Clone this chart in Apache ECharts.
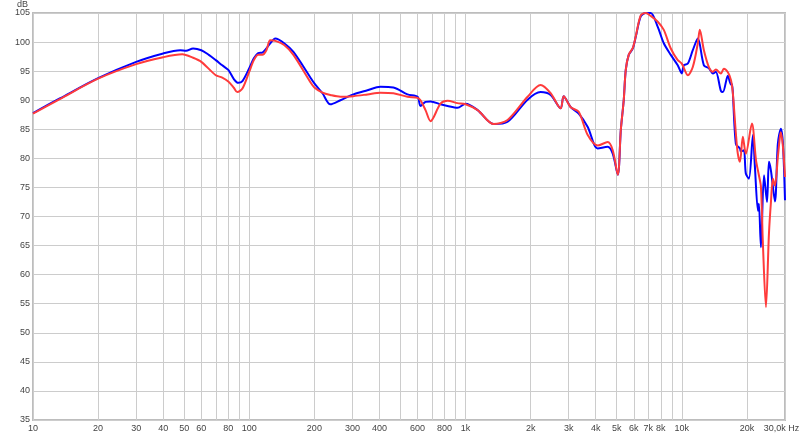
<!DOCTYPE html>
<html>
<head>
<meta charset="utf-8">
<script src="https://cdn.jsdelivr.net/npm/echarts@6/dist/echarts.min.js"></script>
<style>html,body{margin:0;padding:0;background:#fff}#c{width:800px;height:437px}</style>
</head>
<body>
<div id="c"></div>
<script>
var blueFreq = [10,13.3,20,30,40,48,51,55,60,65,70,75,80,85,89,93,100,105,110,115,120,125,132,145,160,191,200,218,237,264,303,352,404,464,539,600,619,653,689,766,826,918,1000,1137,1349,1565,1936,2223,2475,2754,2842,3064,3337,3673,4084,4543,4793,5057,5226,5388,5506,5683,5934,6125,6458,6810,7181,7740,8254,8892,9575,10000,10210,10660,11240,11860,12650,13340,13930,14360,15160,15490,16330,16870,17030,17780,18570,18750,19360,19770,20430,21330,21780,22490,22720,23220,23990,24770,25290,25830,26960,27800,28710,29350,30000];
var blueDb = [87.8,90.3,93.8,96.6,98.05,98.6,98.5,98.9,98.6,97.8,96.9,96.0,95.2,93.6,93.0,93.3,95.5,97.2,98.1,98.2,98.9,99.8,100.6,99.8,98.3,94.0,92.9,91.2,89.3,90.0,91.0,91.7,92.3,92.2,91.0,90.6,89.0,89.7,89.8,89.3,89.0,88.7,89.4,88.3,85.9,86.3,90.1,91.4,90.9,88.6,90.7,88.8,87.7,85.4,81.7,82.0,80.8,77.2,85.0,90.0,95.2,97.8,98.9,100.9,104.4,105,105,102.6,99.8,97.8,96.0,94.6,96.0,96.3,98.6,100.6,96.0,95.5,94.6,94.9,91.6,91.4,94.2,92.7,92.8,82.5,81.7,81.2,81.4,77.4,76.5,84.0,78.5,71.0,72.2,64.7,77.1,72.5,79.4,77.9,72.6,82.5,85.1,82.5,72.8];
var redFreq = [10,13.3,20,30,40,49,55,60,70,75,80,85,88,93,100,105,110,115,120,125,132,145,160,191,200,218,237,264,303,352,404,464,539,600,619,653,689,766,826,918,1000,1137,1349,1565,1936,2223,2475,2754,2842,3064,3337,3673,4084,4543,4793,5057,5226,5388,5506,5683,5934,6125,6458,6810,7181,7740,8254,8892,9575,10000,10660,11240,11860,12110,12650,13340,13930,14360,15160,15640,16330,16870,17220,17780,18150,18570,19150,19770,21090,22030,22720,23220,23710,24490,25290,25830,26380,26960,27800,28420,28710,29350,30000];
var redDb = [87.7,90.2,93.7,96.2,97.4,97.9,97.3,96.6,94.3,93.9,93.2,92.1,91.4,92.0,94.9,96.9,97.8,97.8,98.6,100.3,100.2,99.5,97.8,93.2,92.2,91.3,90.9,90.6,90.7,91.0,91.3,91.2,90.6,90.4,90.0,88.3,86.4,89.4,89.9,89.5,89.3,88.3,85.9,86.6,90.6,92.6,91.2,88.6,90.7,88.8,88.0,84.0,82.2,82.8,81.4,77.2,85.0,90.0,95.2,97.8,99.0,101.0,104.6,105,104.5,103.5,102.1,98.9,96.9,96.3,94.3,95.7,99.8,102.1,98.6,95.7,94.9,95.3,94.6,95.4,94.8,93.5,91.2,84.3,80.8,79.4,83.7,80.8,86.0,79.7,77.1,75.1,65.3,54.4,67.1,72.5,76.5,75.3,80.2,83.7,84.5,82.0,76.8];
var gridFreqs = [10,20,30,40,50,60,70,80,90,100,200,300,400,500,600,700,800,900,1000,2000,3000,4000,5000,6000,7000,8000,9000,10000,20000,30000];
var labelFreqs = [10,20,30,40,50,60,80,100,200,300,400,600,800,1000,2000,3000,4000,5000,6000,7000,8000,10000,20000,30000];
var labelTexts = ['10','20','30','40','50','60','80','100','200','300','400','600','800','1k','2k','3k','4k','5k','6k','7k','8k','10k','20k','30,0k Hz'];

function zip(a, b) { return a.map(function (v, i) { return [v, b[i]]; }); }

var chart = echarts.init(document.getElementById('c'), null, {renderer: 'canvas'});
var font = '"Liberation Sans", Arial, sans-serif';
chart.setOption({
  animation: false,
  backgroundColor: '#fff',
  grid: {left: 33, right: 15, top: 13, bottom: 17, show: true, borderColor: '#bdbdbd', borderWidth: 2,
         containLabel: false, outerBoundsMode: 'none'},
  xAxis: {
    type: 'log', logBase: 10, min: 10, max: 30000,
    axisLine: {show: false},
    axisTick: {show: false, customValues: gridFreqs},
    splitLine: {show: true, lineStyle: {color: '#cccccc', width: 1}},
    axisLabel: {
      customValues: labelFreqs, hideOverlap: false, showMinLabel: true, showMaxLabel: true,
      margin: 4, color: '#444', fontFamily: font, fontSize: 9,
      rich: {last: {padding: [0, 7, 0, 0], color: '#444', fontFamily: font, fontSize: 9}},
      formatter: function (v) {
        for (var i = 0; i < labelFreqs.length; i++) {
          if (Math.abs(labelFreqs[i] - v) / labelFreqs[i] < 1e-6) {
            return i === labelFreqs.length - 1 ? '{last|' + labelTexts[i] + '}' : labelTexts[i];
          }
        }
        return '';
      }
    }
  },
  yAxis: {
    type: 'value', min: 35, max: 105, interval: 5,
    name: 'dB', nameLocation: 'end', nameGap: 0,
    nameTextStyle: {color: '#444', fontFamily: font, fontSize: 9, align: 'right', padding: [0, 5, 0, 0]},
    axisLine: {show: false}, axisTick: {show: false},
    splitLine: {show: true, lineStyle: {color: '#cccccc', width: 1}},
    axisLabel: {margin: 3, color: '#444', fontFamily: font, fontSize: 9}
  },
  series: [
    {type: 'line', data: zip(blueFreq, blueDb), showSymbol: false, smooth: 0.3, clip: true,
     lineStyle: {color: '#0000ff', width: 2}, z: 3},
    {type: 'line', data: zip(redFreq, redDb), showSymbol: false, smooth: 0.3, clip: true,
     lineStyle: {color: '#ff3b3b', width: 2}, z: 4}
  ]
});
</script>
</body>
</html>
